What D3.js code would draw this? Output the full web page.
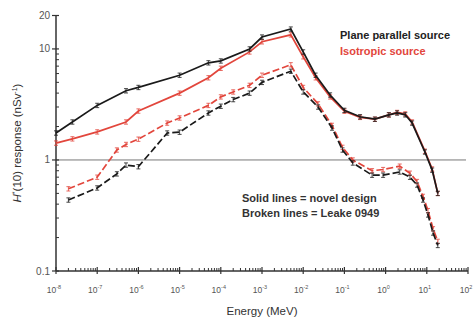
<!DOCTYPE html>
<html>
<head>
<meta charset="utf-8">
<script src="https://cdn.jsdelivr.net/npm/d3@7"></script>
<style>
body { margin: 0; background: #fff; }
svg { font-family: Arial, "Liberation Sans", sans-serif; }
</style>
</head>
<body>
<script>
// energies (MeV) for the novel design curves (solid)
var solidEnergy = [1e-8, 2.5e-8, 1e-7, 5e-7, 1e-6, 1e-5, 5e-5, 1e-4, 5e-4, 1e-3, 5e-3, 1e-2, 2e-2, 4.5e-2,
    0.1, 0.24, 0.55, 1.2, 1.9, 3, 4.4, 9, 13.5, 18.5];
var solidPlane = [1.75, 2.2, 3.1, 4.2, 4.5, 5.8, 7.5, 7.8, 10, 12.8, 15.1, 9.4, 5.8, 3.85,
    2.8, 2.45, 2.33, 2.55, 2.65, 2.55, 2.15, 1.18, 0.81, 0.5];
var solidIso = [1.42, 1.55, 1.79, 2.2, 2.76, 4.0, 5.5, 6.7, 9.4, 11.6, 13.4, 8.5, 5.5, 3.7,
    2.75, 2.42, 2.33, 2.55, 2.68, 2.6, 2.2, 1.2, 0.83, 0.5];

// energies (MeV) for the Leake 0949 curves (broken)
var brokenEnergy = [2e-8, 1e-7, 3e-7, 5e-7, 1e-6, 5e-6, 1e-5, 5e-5, 1e-4, 2e-4, 5e-4, 1e-3, 5e-3, 1e-2,
    2.3e-2, 5e-2, 9e-2, 0.16, 0.47, 0.87, 2.2, 3.9, 5.8, 8.1, 10.7, 14.2, 18.5];
var brokenPlane = [0.436, 0.56, 0.75, 0.9, 0.87, 1.75, 1.78, 2.65, 3.05, 3.5, 4.0, 5.0, 6.3, 4.1,
    3.0, 1.94, 1.23, 0.94, 0.73, 0.73, 0.78, 0.7, 0.595, 0.436, 0.32, 0.22, 0.17];
var brokenIso = [0.55, 0.7, 1.23, 1.38, 1.54, 2.15, 2.39, 3.1, 3.7, 4.1, 4.7, 5.8, 7.2, 4.5,
    3.2, 2.05, 1.3, 1.0, 0.8, 0.82, 0.88, 0.76, 0.64, 0.47, 0.35, 0.24, 0.185];

var xExponents = [-8, -7, -6, -5, -4, -3, -2, -1, 0, 1, 2];
var yTicks = [0.1, 1, 10, 20];
var relError = 0.045;

var width = 474,
    height = 321;

var svg = d3.select("body")
    .append("svg")
    .attr("width", width)
    .attr("height", height);

var x = d3.scaleLog()
    .domain([1e-8, 1e2])
    .range([56, 468]);

var y = d3.scaleLog()
    .domain([0.1, 20])
    .range([271, 15.5]);

var black = "#1a1a1a",
    red = "#e2463c",
    axisColor = "#333";

//reference line at 1
svg.append("line")
    .attr("x1", x(1e-8)).attr("x2", 466)
    .attr("y1", y(1)).attr("y2", y(1))
    .attr("stroke", "#777")
    .attr("stroke-width", 1);

//x axis ticks
var xMinor = [];
for (var e = -8; e < 2; e++) {
    for (var m = 2; m < 10; m++) xMinor.push(m * Math.pow(10, e));
}
var xAxisG = svg.append("g");
xAxisG.append("line")
    .attr("x1", x(1e-8)).attr("x2", x(1e2))
    .attr("y1", y(0.1)).attr("y2", y(0.1))
    .attr("stroke", axisColor).attr("stroke-width", 1.5);
xAxisG.selectAll(".xminor")
    .data(xMinor)
    .enter()
    .append("line")
    .attr("x1", function(d){ return x(d); })
    .attr("x2", function(d){ return x(d); })
    .attr("y1", y(0.1)).attr("y2", y(0.1) - 3)
    .attr("stroke", axisColor).attr("stroke-width", 1);
xAxisG.selectAll(".xmajor")
    .data(xExponents)
    .enter()
    .append("line")
    .attr("x1", function(d){ return x(Math.pow(10, d)); })
    .attr("x2", function(d){ return x(Math.pow(10, d)); })
    .attr("y1", y(0.1) - 4).attr("y2", y(0.1) + 3)
    .attr("stroke", axisColor).attr("stroke-width", 1.2);
var xLab = xAxisG.selectAll(".xlab")
    .data(xExponents)
    .enter()
    .append("text")
    .attr("x", function(d){ return x(Math.pow(10, d)) - 2; })
    .attr("y", 293)
    .attr("text-anchor", "middle")
    .attr("font-size", 8.5)
    .attr("fill", "#555");
xLab.append("tspan").text("10");
xLab.append("tspan")
    .attr("dy", -4)
    .attr("font-size", 5.5)
    .text(function(d){ return d; });

//y axis ticks
var yMinor = [];
for (var m2 = 2; m2 < 10; m2++) { yMinor.push(m2 * 0.1); yMinor.push(m2); }
var yAxisG = svg.append("g");
yAxisG.append("line")
    .attr("x1", x(1e-8)).attr("x2", x(1e-8))
    .attr("y1", y(0.1)).attr("y2", y(20))
    .attr("stroke", axisColor).attr("stroke-width", 1.5);
yAxisG.selectAll(".yminor")
    .data(yMinor)
    .enter()
    .append("line")
    .attr("x1", x(1e-8)).attr("x2", x(1e-8) + 3)
    .attr("y1", function(d){ return y(d); })
    .attr("y2", function(d){ return y(d); })
    .attr("stroke", axisColor).attr("stroke-width", 1);
yAxisG.selectAll(".ymajor")
    .data(yTicks)
    .enter()
    .append("line")
    .attr("x1", x(1e-8) - 4).attr("x2", x(1e-8) + 3)
    .attr("y1", function(d){ return y(d); })
    .attr("y2", function(d){ return y(d); })
    .attr("stroke", axisColor).attr("stroke-width", 1.2);
yAxisG.selectAll(".ylab")
    .data(yTicks)
    .enter()
    .append("text")
    .attr("x", x(1e-8) - 6)
    .attr("y", function(d){ return y(d) + 3.5; })
    .attr("text-anchor", "end")
    .attr("font-size", 10)
    .attr("fill", "#555")
    .text(function(d){ return d; });

//axis titles
svg.append("text")
    .attr("x", 262).attr("y", 315)
    .attr("text-anchor", "middle")
    .attr("font-size", 11.5)
    .attr("fill", "#333")
    .text("Energy (MeV)");

var yTitle = svg.append("text")
    .attr("transform", "translate(21,143) rotate(-90)")
    .attr("text-anchor", "middle")
    .attr("font-size", 11.5)
    .attr("fill", "#333");
yTitle.append("tspan").attr("font-style", "italic").text("H");
yTitle.append("tspan").attr("dy", -4).attr("font-size", 7).text("*");
yTitle.append("tspan").attr("dy", 4).text("(10) response (nSv");
yTitle.append("tspan").attr("dy", -4).attr("font-size", 7).text("-1");
yTitle.append("tspan").attr("dy", 4).text(")");

//curves
var series = [
    {energy: brokenEnergy, values: brokenIso, color: red, dash: "7,3"},
    {energy: brokenEnergy, values: brokenPlane, color: black, dash: "7,3"},
    {energy: solidEnergy, values: solidIso, color: red, dash: null},
    {energy: solidEnergy, values: solidPlane, color: black, dash: null}
];

var line = d3.line()
    .x(function(d){ return x(d[0]); })
    .y(function(d){ return y(d[1]); });

series.forEach(function(s){
    var pts = s.energy.map(function(e, i){ return [e, s.values[i]]; });
    var g = svg.append("g");
    g.append("path")
        .datum(pts)
        .attr("d", line)
        .attr("fill", "none")
        .attr("stroke", s.color)
        .attr("stroke-width", 1.7)
        .attr("stroke-dasharray", s.dash);
    //error bars
    var eb = g.selectAll(".eb")
        .data(pts)
        .enter()
        .append("g")
        .attr("stroke", s.color)
        .attr("stroke-width", 0.8);
    eb.append("line")
        .attr("x1", function(d){ return x(d[0]); })
        .attr("x2", function(d){ return x(d[0]); })
        .attr("y1", function(d){ return y(d[1] * (1 - relError)); })
        .attr("y2", function(d){ return y(d[1] * (1 + relError)); });
    eb.append("line")
        .attr("x1", function(d){ return x(d[0]) - 2; })
        .attr("x2", function(d){ return x(d[0]) + 2; })
        .attr("y1", function(d){ return y(d[1] * (1 - relError)); })
        .attr("y2", function(d){ return y(d[1] * (1 - relError)); });
    eb.append("line")
        .attr("x1", function(d){ return x(d[0]) - 2; })
        .attr("x2", function(d){ return x(d[0]) + 2; })
        .attr("y1", function(d){ return y(d[1] * (1 + relError)); })
        .attr("y2", function(d){ return y(d[1] * (1 + relError)); });
});

//legend text
svg.append("text")
    .attr("x", 340).attr("y", 39)
    .attr("font-size", 11).attr("font-weight", "bold")
    .attr("fill", "#222")
    .text("Plane parallel source");
svg.append("text")
    .attr("x", 340).attr("y", 55)
    .attr("font-size", 11).attr("font-weight", "bold")
    .attr("fill", red)
    .text("Isotropic source");

svg.append("text")
    .attr("x", 242).attr("y", 202)
    .attr("font-size", 11).attr("font-weight", "bold")
    .attr("fill", "#333")
    .text("Solid lines = novel design");
svg.append("text")
    .attr("x", 242).attr("y", 217)
    .attr("font-size", 11).attr("font-weight", "bold")
    .attr("fill", "#333")
    .text("Broken lines = Leake 0949");
</script>
</body>
</html>
